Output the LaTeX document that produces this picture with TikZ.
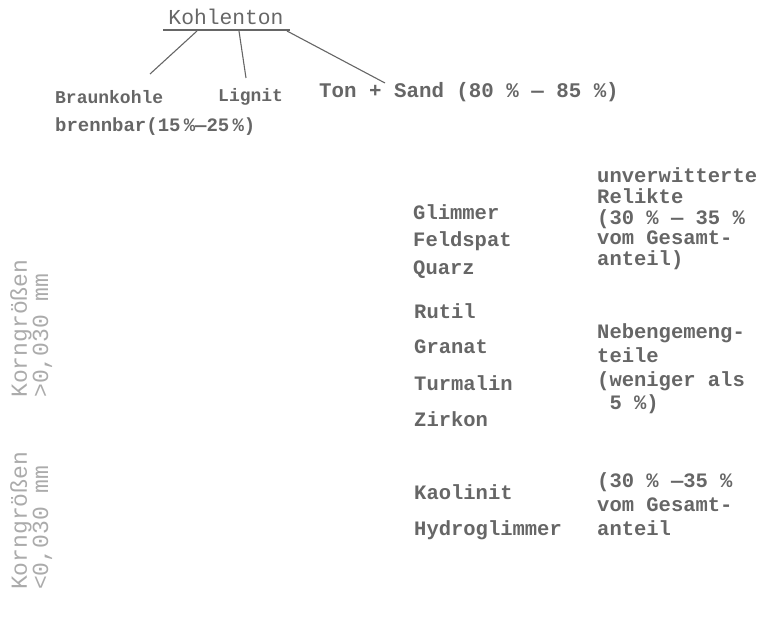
\documentclass[tikz,border=0pt]{standalone}
\usepackage{fontspec}
\setmainfont{Liberation Serif}
\newfontfamily\tw{Liberation Mono}
\newfontfamily\twb{Liberation Mono Bold}
\definecolor{ink}{HTML}{666666}
\definecolor{pale}{HTML}{ABABAB}
\tikzset{
  txt/.style={inner sep=0pt, anchor=west, text=ink, font=\twb\fontsize{20.5}{20.5}\selectfont},
  blockA/.style={txt, align=left, font=\twb\fontsize{20.5}{20.7}\selectfont},
  blockB/.style={txt, align=left, font=\twb\fontsize{20.5}{23.8}\selectfont},
  side/.style={inner sep=0pt, rotate=90, anchor=north west, align=left, text=pale, font=\tw\fontsize{23}{19}\selectfont},
  conn/.style={draw=ink, line width=1.1pt}
}
\begin{document}
\begin{tikzpicture}[x=1pt,y=-1pt]
\useasboundingbox (0,0) rectangle (772,620);
% top tree
\node[txt, anchor=center, font=\tw\fontsize{21.3}{21.3}\selectfont] (kohle) at (226,17) {Kohlenton};
\coordinate (ul1) at (163,30);
\coordinate (ul2) at (290,30);
\draw[conn] (ul1) -- (ul2);
\node[txt, font=\twb\fontsize{18}{18}\selectfont] (braun) at (55,97) {Braunkohle};
\node[txt, font=\twb\fontsize{18}{18}\selectfont] (lignit) at (218,97) {Lignit};
\node[txt, font=\twb\fontsize{20.8}{20.8}\selectfont] (ton) at (319,92) {Ton + Sand (80 \% — 85 \%)};
\node[txt, font=\twb\fontsize{19}{19}\selectfont] (brenn) at (55,127) {brennbar(15\,\%—25\,\%)};
\coordinate (c1) at (197,31);
\coordinate (c2) at (239,31);
\coordinate (c3) at (287,31);
\coordinate (e1) at (150,74);
\coordinate (e2) at (246,78);
\coordinate (e3) at (385,83);
\draw[conn] (c1) -- (e1);
\draw[conn] (c2) -- (e2);
\draw[conn] (c3) -- (e3);
% group 1
\node[txt] (glimmer) at (413,212) {Glimmer};
\node[txt] (feldspat) at (413,241) {Feldspat};
\node[txt] (quarz) at (413,270) {Quarz};
\node[blockA] (relikte) at (597,219) {unverwitterte\\Relikte\\(30 \% — 35 \%\\vom Gesamt-\\anteil)};
% group 2
\node[txt] (rutil) at (414,311) {Rutil};
\node[txt] (granat) at (414,347) {Granat};
\node[txt] (turmalin) at (414,383) {Turmalin};
\node[txt] (zirkon) at (414,419) {Zirkon};
\node[blockB] (neben) at (597,369) {Nebengemeng-\\teile\\(weniger als\\\ 5 \%)};
% group 3
\node[txt] (kaolinit) at (414,492) {Kaolinit};
\node[txt] (hydro) at (414,530) {Hydroglimmer};
\node[blockB] (anteil) at (597,504) {(30 \% —35 \%\\vom Gesamt-\\anteil};
% side labels
\node[side] (korn1) at (10,398) {Korngrößen\\>0,030 mm};
\node[side] (korn2) at (10,590) {Korngrößen\\<0,030 mm};
\end{tikzpicture}
\end{document}
